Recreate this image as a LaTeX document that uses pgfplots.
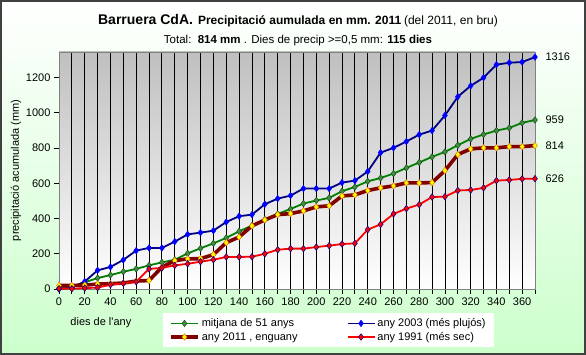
\documentclass[border=0pt]{standalone}
\usepackage{fontspec}
\setmainfont{Liberation Sans}[Ligatures=TeXOff]
\usepackage{pgfplots}
\usepackage{pgfplotstable}
\pgfplotsset{compat=1.18}
\definecolor{bggreen}{RGB}{204,255,204}
\definecolor{framegray}{RGB}{64,64,64}
\definecolor{dgreen}{RGB}{0,128,0}
\definecolor{mgreen}{RGB}{72,136,72}
\definecolor{navy}{RGB}{0,0,128}
\definecolor{bblue}{RGB}{0,0,255}
\definecolor{maroon}{RGB}{128,0,0}
\definecolor{yell}{RGB}{255,255,0}
\definecolor{rred}{RGB}{255,0,0}

\pgfplotstableread{
day avg y2003 y2011 y1991
0   5    0    20   2
10  15   8    20   2
20  38   42   22   5
30  62   106  28   8
40  79   125  30   24
50  98   165  34   32
60  114  218  45   41
70  134  233  48   114
80  151  233  124  120
90  166  269  161  134
100 202  310  171  143
110 231  320  172  155
120 259  331  195  166
130 290  380  263  182
140 327  413  295  182
150 360  422  358  183
160 394  481  392  200
170 426  513  422  223
180 454  530  428  229
190 485  570  443  229
200 502  570  466  238
210 517  570  472  246
220 555  604  528  255
230 579  615  534  259
240 611  667  559  337
250 630  774  574  367
260 655  801  585  426
270 687  837  602  456
280 718  876  602  479
290 750  899  604  522
300 778  985  672  524
310 816  1091 763  559
320 852  1153 795  562
330 877  1199 801  574
340 899  1273 801  615
350 914  1284 808  619
360 943  1288 808  625
370 959  1316 814  626
}\datatable

\begin{document}
\begin{tikzpicture}
\shade[top color=white, bottom color=bggreen] (0pt,0pt) rectangle (586pt,355pt);
\draw[line width=2pt, draw=framegray] (1pt,1pt) rectangle (585pt,354pt);
\begin{axis}[
  at={(59pt,66pt)}, anchor=south west,
  scale only axis, width=476pt, height=237pt,
  xmin=0, xmax=370, ymin=0, ymax=1345,
  xtick={0,20,...,360}, minor xtick={10,30,...,370},
  ytick={0,200,...,1200},
  xtick pos=bottom, ytick pos=left,
  tick align=outside,
  major tick length=5pt, minor tick length=5pt,
  every tick/.style={black, line width=0.8pt},
  xmajorgrids, xminorgrids,
  major grid style={black, line width=0.9pt},
  minor grid style={black, line width=0.9pt},
  axis line style={draw=gray, line width=0.9pt},
  axis background/.style={shade, top color=black!25, bottom color=white},
  tick label style={font=\fontsize{11}{13}\selectfont},
  /pgf/number format/assume math mode=true,
  /pgf/number format/1000 sep={},
  xlabel={dies de l'any},
  xlabel style={at={(axis description cs:0.088,-0.143)}, anchor=center, font=\fontsize{11}{13}\selectfont},
  ylabel={precipitació acumulada (mm)},
  ylabel style={at={(axis description cs:-0.0903,0.5)}, anchor=center, font=\fontsize{11}{13}\selectfont},
  clip=false,
  legend columns=2,
  legend cell align=left,
  legend image code/.code={\draw[mark repeat=2,mark phase=2] plot coordinates {(0pt,0pt) (13.5pt,0pt) (27pt,0pt)};},
  legend style={at={(axis description cs:0.2185,-0.101)}, anchor=north west, draw=none, fill=white,
    font=\fontsize{11}{13}\selectfont, inner xsep=6pt, inner ysep=3.5pt, row sep=0pt,
    /tikz/every even column/.append style={column sep=47pt}},
]
\addplot[color=dgreen, line width=1.8pt, mark=diamond*, mark size=3.3pt,
  mark options={fill=mgreen, draw=dgreen!60!black, line width=0.4pt}] table[x=day,y=avg] {\datatable};
\addlegendentry{mitjana de 51 anys}
\addplot[color=navy, line width=1.8pt, mark=diamond*, mark size=3.3pt,
  mark options={fill=bblue, draw=bblue, line width=0.4pt}] table[x=day,y=y2003] {\datatable};
\addlegendentry{any 2003 (més plujós)}
\addplot[color=maroon, line width=3.6pt, mark=diamond*, mark size=3.3pt,
  mark options={fill=yell, draw=orange!80!maroon, line width=0.4pt}] table[x=day,y=y2011] {\datatable};
\addlegendentry{any 2011 , enguany}
\addplot[color=rred, line width=1.8pt, mark=diamond*, mark size=3.3pt,
  mark options={fill=rred, draw=navy, line width=0.5pt}] table[x=day,y=y1991] {\datatable};
\addlegendentry{any 1991 (més sec)}
\node[anchor=west, font=\fontsize{11}{13}\selectfont, xshift=7pt] at (axis cs:370,1316) {1316};
\node[anchor=west, font=\fontsize{11}{13}\selectfont, xshift=7pt] at (axis cs:370,959) {959};
\node[anchor=west, font=\fontsize{11}{13}\selectfont, xshift=7pt] at (axis cs:370,814) {814};
\node[anchor=west, font=\fontsize{11}{13}\selectfont, xshift=7pt] at (axis cs:370,626) {626};
\end{axis}
\node[anchor=base] at (298pt,330pt) {{\fontsize{14}{16}\selectfont\bfseries Barruera CdA.}\hspace{5pt}{\fontsize{12}{14}\selectfont\bfseries Precipitació aumulada en mm. 2011} {\fontsize{12}{14}\selectfont (del 2011, en bru)}};
\node[anchor=base, font=\fontsize{11.5}{13}\selectfont] at (298pt,311pt) {Total:\ \ \textbf{814 mm} . Dies de precip >=0,5 mm: \textbf{115 dies}};
\end{tikzpicture}
\end{document}
